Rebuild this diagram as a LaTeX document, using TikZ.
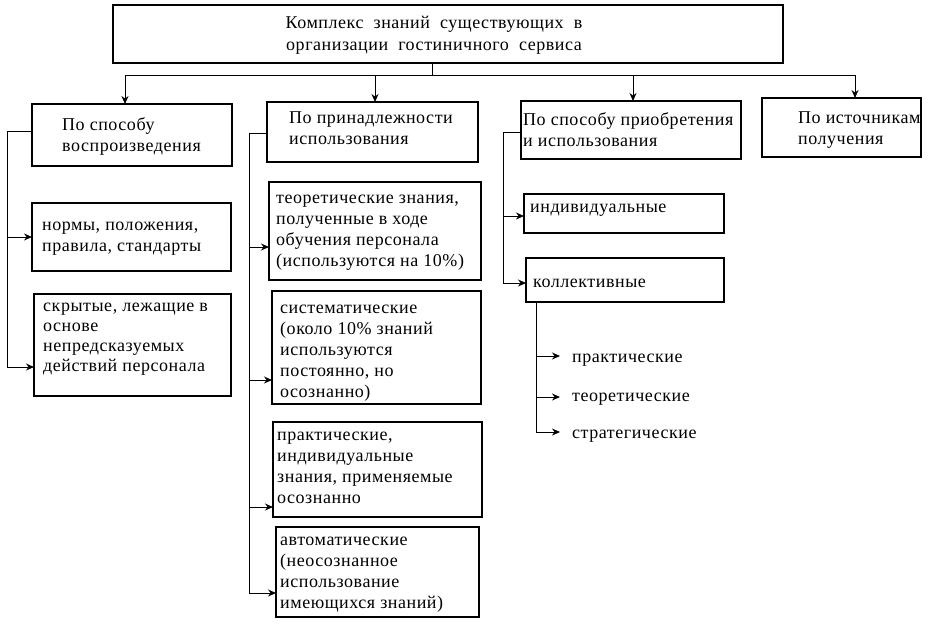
\documentclass[tikz,border=0pt]{standalone}
\usepackage{fontspec}
\setmainfont[LetterSpace=3]{Liberation Serif}
\usetikzlibrary{arrows.meta,calc}
\newcommand{\sr}{\rule{0pt}{14pt}}
\begin{document}
\begin{tikzpicture}[x=1pt,y=-1pt,
 box/.style={draw,line width=1.3pt,anchor=north west,inner sep=0pt,outer sep=0pt},
 txt/.style={anchor=north west,align=left,inner sep=0pt,font=\fontsize{18}{21}\selectfont},
 link/.style={line width=1pt},
 arr/.style={link,-{Stealth[length=8pt,width=7pt]}}]
\useasboundingbox (0,0) rectangle (931,641);
% boxes
\node[box,minimum width=670pt,minimum height=58pt] (top) at (113,5) {};
\node[box,minimum width=200pt,minimum height=62pt] (b1) at (32,104) {};
\node[box,minimum width=211pt,minimum height=60pt] (b2) at (267,102) {};
\node[box,minimum width=220pt,minimum height=58pt] (b3) at (521,101) {};
\node[box,minimum width=159pt,minimum height=59pt] (b4) at (762,98) {};
\node[box,minimum width=199pt,minimum height=68pt] (n1) at (32,203) {};
\node[box,minimum width=197pt,minimum height=102pt] (n2) at (34,294) {};
\node[box,minimum width=212pt,minimum height=98pt] (m1) at (269,182) {};
\node[box,minimum width=209pt,minimum height=113pt] (m2) at (272,291) {};
\node[box,minimum width=209pt,minimum height=95pt] (m3) at (273,422) {};
\node[box,minimum width=203pt,minimum height=90pt] (m4) at (276,527) {};
\node[box,minimum width=200pt,minimum height=39pt] (k1) at (524,194) {};
\node[box,minimum width=198pt,minimum height=44pt] (k2) at (526,258) {};
% texts
\node[anchor=north,align=center,inner sep=0pt,font=\fontsize{18}{22}\selectfont] (ttop) at (434,14) {\sr Комплекс\ \ знаний\ \ существующих\ \ в\\организации\ \ гостиничного\ \ сервиса};
\node[txt] (t1) at (62,116) {\sr По способу\\воспроизведения};
\node[txt] (t2) at (289,109) {\sr По принадлежности\\использования};
\node[txt] (t3) at (523,111) {\sr По способу приобретения\\и использования};
\node[txt] (t4) at (798,109) {\sr По источникам\\получения};
\node[txt] (tn1) at (42,216) {\sr нормы, положения,\\правила, стандарты};
\node[txt,font=\fontsize{18}{20}\selectfont] (tn2) at (43,297) {\sr скрытые, лежащие в\\основе\\непредсказуемых\\действий персонала};
\node[txt] (tm1) at (276,189) {\sr теоретические знания,\\полученные в ходе\\обучения персонала\\(используются на 10\%)};
\node[txt] (tm2) at (280,299) {\sr систематические\\(около 10\% знаний\\используются\\постоянно, но\\осознанно)};
\node[txt] (tm3) at (277,426) {\sr практические,\\индивидуальные\\знания, применяемые\\осознанно};
\node[txt] (tm4) at (280,531) {\sr автоматические\\(неосознанное\\использование\\имеющихся знаний)};
\node[txt] (tk1) at (530,198) {\sr индивидуальные};
\node[txt] (tk2) at (533,273) {\sr коллективные};
\node[txt] (p1) at (572,348) {\sr практические};
\node[txt] (p2) at (572,387) {\sr теоретические};
\node[txt] (p3) at (572,424) {\sr стратегические};
% top connectors
\coordinate (hj) at (432,75);
\coordinate (h1) at (125,75);
\coordinate (h2) at (375,75);
\coordinate (h3) at (633,75);
\coordinate (h4) at (855,75);
\draw[link] (top.south -| hj) -- (hj);
\draw[link] (h1) -- (h4);
\draw[arr] (h1) -- (h1 |- b1.north);
\draw[arr] (h2) -- (h2 |- b2.north);
\draw[arr] (h3) -- (h3 |- b3.north);
\draw[arr] (h4) -- (h4 |- b4.north);
% left column
\coordinate (L0) at (7,131);
\coordinate (L2) at (7,367);
\draw[link] (L0 -| b1.west) -- (L0) -- (L2);
\draw[arr] (L0 |- n1.west) -- (n1.west);
\draw[arr] (L2) -- (L2 -| n2.west);
% second column
\coordinate (M0) at (249,133);
\coordinate (M1) at (249,247);
\coordinate (M2) at (249,380);
\coordinate (M3) at (249,507);
\coordinate (M4) at (249,593);
\draw[link] (M0 -| b2.west) -- (M0) -- (M4);
\draw[arr] (M1) -- (M1 -| m1.west);
\draw[arr] (M2) -- (M2 -| m2.west);
\draw[arr] (M3) -- (M3 -| m3.west);
\draw[arr] (M4) -- (M4 -| m4.west);
% third column
\coordinate (K0) at (503,132);
\coordinate (K1) at (503,216);
\coordinate (K2) at (503,283);
\draw[link] (K0 -| b3.west) -- (K0) -- (K2);
\draw[arr] (K1) -- (K1 -| k1.west);
\draw[arr] (K2) -- (K2 -| k2.west);
% sub list
\coordinate (S0) at (536,302);
\coordinate (S1) at (536,356);
\coordinate (S2) at (536,397);
\coordinate (S3) at (536,432);
\draw[link] (S0 |- k2.south) -- (S3);
\draw[arr,shorten >=12pt] (S1) -- (S1 -| p1.west);
\draw[arr,shorten >=12pt] (S2) -- (S2 -| p2.west);
\draw[arr,shorten >=12pt] (S3) -- (S3 -| p3.west);
\end{tikzpicture}
\end{document}
